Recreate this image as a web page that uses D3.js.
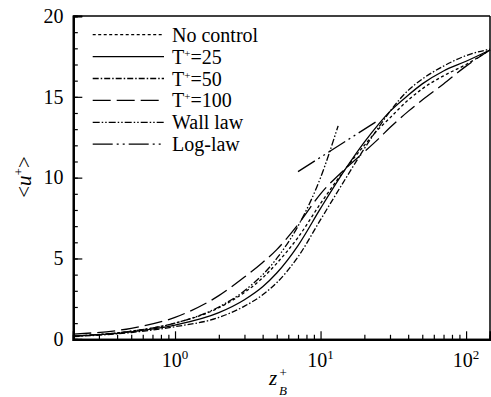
<html>
<head>
<script src="https://cdn.jsdelivr.net/npm/d3@7"></script>
<style>
  body { margin: 0; background: #fff; }
  text { font-family: "Liberation Serif", "Times New Roman", serif; fill: #000; }
</style>
</head>
<body>
<script>
var width = 491, height = 397;

// wall-unit distance and mean velocity
var zPlus = [0.2, 0.5, 1, 2, 3, 4, 5, 7, 10, 15, 20, 25, 30, 40, 50, 70, 100, 146];
var noControl = [0.2, 0.5, 1.0, 1.95, 2.9, 3.8, 4.7, 6.3, 8.4, 10.6, 12.0, 13.0, 13.7, 14.8, 15.5, 16.3, 17.0, 17.9];
var t25 = [0.19, 0.46, 0.88, 1.65, 2.45, 3.25, 4.1, 5.8, 8.1, 10.6, 12.2, 13.3, 14.1, 15.1, 15.8, 16.6, 17.2, 17.9];
var t50 = [0.17, 0.42, 0.78, 1.35, 2.05, 2.75, 3.5, 5.1, 7.4, 10.0, 11.8, 13.1, 14.1, 15.4, 16.1, 16.9, 17.55, 17.95];
var t100 = [0.32, 0.68, 1.36, 2.7, 3.85, 4.75, 5.55, 7.1, 9.0, 10.6, 11.6, 12.4, 13.1, 14.1, 14.8, 15.8, 16.9, 17.9];

var wallZ = [0.2, 0.5, 1, 2, 3, 5, 7, 10, 13.2];
var wallU = [0.2, 0.5, 1, 2, 3, 5, 7, 10, 13.2];
var logZ = [7, 24.5];
var logU = [10.37, 13.5];

var legendLabels = ["No control", "T+=25", "T+=50", "T+=100", "Wall law", "Log-law"];
var yTicks = [0, 5, 10, 15, 20];
var xTicks = [1, 10, 100];

var series = [
  {name: legendLabels[0], z: zPlus, u: noControl, dash: "3,2.5"},
  {name: legendLabels[1], z: zPlus, u: t25, dash: null},
  {name: legendLabels[2], z: zPlus, u: t50, dash: "6,2,1.5,2"},
  {name: legendLabels[3], z: zPlus, u: t100, dash: "18,6"},
  {name: legendLabels[4], z: wallZ, u: wallU, dash: "7,2,1.5,2,1.5,2"},
  {name: legendLabels[5], z: logZ, u: logU, dash: "20,4,2,4,2,4"}
];

var plotL = 73.3, plotR = 490, plotT = 16, plotB = 339.3;

var x = d3.scaleLog().domain([0.2, 146]).range([plotL, plotR]);
var y = d3.scaleLinear().domain([0, 20]).range([plotB, plotT]);

var svg = d3.select("body").append("svg")
  .attr("width", width)
  .attr("height", height);

var line = d3.line()
  .x(function(d){ return x(d[0]); })
  .y(function(d){ return y(d[1]); })
  .curve(d3.curveMonotoneX);

svg.selectAll("path.curve")
  .data(series)
  .enter().append("path")
  .attr("class", "curve")
  .attr("d", function(s){ return line(s.z.map(function(z, i){ return [z, s.u[i]]; })); })
  .attr("fill", "none")
  .attr("stroke", "#000")
  .attr("stroke-width", 1.3)
  .attr("stroke-dasharray", function(s){ return s.dash; });

// frame
svg.append("line").attr("x1", plotL).attr("x2", plotR).attr("y1", plotT).attr("y2", plotT)
  .attr("stroke", "#000").attr("stroke-width", 1.5);
svg.append("line").attr("x1", plotR).attr("x2", plotR).attr("y1", plotT).attr("y2", plotB)
  .attr("stroke", "#000").attr("stroke-width", 1.5);

// y axis, ticks pointing inward
var yMinor = d3.range(0, 21);
svg.append("g").attr("transform", "translate(" + plotL + ",0)")
  .call(d3.axisRight(y).tickValues(yMinor).tickSize(4.5).tickFormat(""));
svg.append("g").attr("transform", "translate(" + plotL + ",0)")
  .call(d3.axisRight(y).tickValues(yTicks).tickSize(9).tickFormat(""));

// x axis, ticks pointing up
var xMinor = [];
[0.1, 1, 10].forEach(function(d){ for (var k = 2; k <= 9; k++) { if (d * k >= 0.2) xMinor.push(d * k); } });
svg.append("g").attr("transform", "translate(0," + plotB + ")")
  .call(d3.axisTop(x).tickValues(xMinor).tickSize(4.5).tickFormat(""));
svg.append("g").attr("transform", "translate(0," + plotB + ")")
  .call(d3.axisTop(x).tickValues(xTicks).tickSize(8).tickFormat(""));

svg.selectAll("g .domain").attr("stroke-width", 2.2);
svg.selectAll("g .tick line").attr("stroke-width", 1.2);

// y tick labels
svg.selectAll("text.ylab")
  .data(yTicks)
  .enter().append("text")
  .attr("class", "ylab")
  .attr("x", 63.5)
  .attr("y", function(d){ return y(d); })
  .attr("dy", "0.34em")
  .attr("text-anchor", "end")
  .style("font-size", "20px")
  .text(function(d){ return d; });

// x tick labels 10^n
var xl = svg.selectAll("text.xlab")
  .data(xTicks)
  .enter().append("text")
  .attr("class", "xlab")
  .attr("x", function(d){ return x(d); })
  .attr("y", 366.5)
  .attr("text-anchor", "middle")
  .style("font-size", "20px");
xl.append("tspan").text("10");
xl.append("tspan").attr("dy", -8).style("font-size", "13px")
  .text(function(d){ return Math.round(Math.log10(d)); });

// axis titles
var yt = svg.append("text")
  .attr("transform", "translate(31,177) rotate(-90)")
  .attr("text-anchor", "middle")
  .style("font-size", "21px");
yt.append("tspan").text("<");
yt.append("tspan").style("font-style", "italic").text("u");
yt.append("tspan").attr("dy", -8).style("font-size", "13px").text("+");
yt.append("tspan").attr("dy", 8).text(">");

svg.append("text").attr("x", 269).attr("y", 384.5)
  .style("font-size", "21px").style("font-style", "italic").text("z");
svg.append("text").attr("x", 279).attr("y", 395)
  .style("font-size", "13px").style("font-style", "italic").text("B");
svg.append("text").attr("x", 279.5).attr("y", 377)
  .style("font-size", "13px").text("+");

// legend
var lg = svg.selectAll("g.legend")
  .data(series)
  .enter().append("g")
  .attr("class", "legend")
  .attr("transform", function(d, i){ return "translate(0," + (34.7 + i * 21.9) + ")"; });

lg.append("line")
  .attr("x1", 92.7).attr("x2", 164)
  .attr("stroke", "#000").attr("stroke-width", 1.3)
  .attr("stroke-dasharray", function(d){ return d.dash; });

var lt = lg.append("text")
  .attr("x", 172).attr("y", 7)
  .style("font-size", "20px");
lt.each(function(d){
  var t = d3.select(this);
  if (d.name.indexOf("T+") === 0) {
    t.append("tspan").text("T");
    t.append("tspan").attr("dy", -7).style("font-size", "11px").text("+");
    t.append("tspan").attr("dy", 7).text(d.name.slice(2));
  } else {
    t.text(d.name);
  }
});
</script>
</body>
</html>
